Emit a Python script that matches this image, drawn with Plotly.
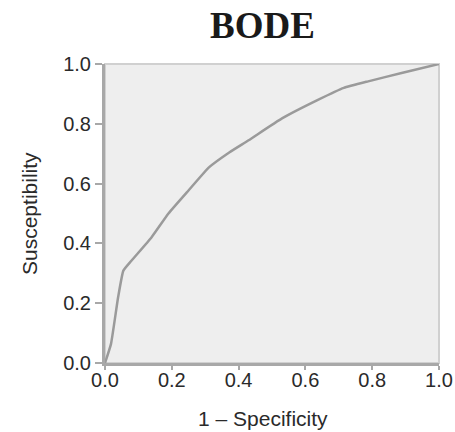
import plotly.graph_objects as go

fpr = [0.0, 0.018, 0.039, 0.055, 0.079, 0.139, 0.19, 0.25, 0.312, 0.373, 0.43, 0.53, 0.636, 0.715, 0.788, 0.888, 1.0]
tpr = [0.0, 0.064, 0.218, 0.309, 0.342, 0.42, 0.5, 0.577, 0.655, 0.705, 0.745, 0.818, 0.879, 0.92, 0.942, 0.97, 1.0]
ticks = [0.0, 0.2, 0.4, 0.6, 0.8, 1.0]
tick_labels = ["0.0", "0.2", "0.4", "0.6", "0.8", "1.0"]

L, R, T, B = 105, 16, 64, 69
W, H = 455, 432
pw, ph = W - L - R, H - T - B

fig = go.Figure()
fig.add_trace(go.Scatter(x=fpr, y=tpr, mode="lines",
                         line=dict(color="#9a9a9a", width=2.5, shape="spline", smoothing=0.4),
                         showlegend=False))

fig.add_shape(type="rect", xref="paper", yref="paper", x0=0, y0=0, x1=1, y1=1,
              line=dict(color="#d0d0d0", width=2), layer="below")

tickfont = dict(family="Liberation Sans, Arial", size=20, color="#2a2a2a")
axis_common = dict(range=[0, 1], tickvals=ticks, ticktext=tick_labels,
                   showgrid=False, zeroline=False, showline=True,
                   linecolor="#a8a8a8", linewidth=3, ticks="outside",
                   tickwidth=2, tickcolor="#a8a8a8", tickfont=tickfont,
                   automargin=False)

fig.update_xaxes(**axis_common, ticklen=4, ticklabelstandoff=-7)
fig.update_yaxes(**axis_common, ticklen=7)

titlefont = dict(family="Liberation Sans, Arial", size=21, color="#2a2a2a")
fig.add_annotation(text="1 – Specificity", xref="paper", yref="paper",
                   x=(263 - L) / pw, y=-(418 - (T + ph)) / ph,
                   xanchor="center", yanchor="middle", showarrow=False, font=titlefont)
fig.add_annotation(text="Susceptibility", xref="paper", yref="paper",
                   x=-(L - 29) / pw, y=(T + ph - 214) / ph, textangle=-90,
                   xanchor="center", yanchor="middle", showarrow=False, font=titlefont)

fig.update_layout(
    width=W, height=H,
    margin=dict(l=L, r=R, t=T, b=B),
    plot_bgcolor="#eeeeee", paper_bgcolor="white",
    title=dict(text="<b>BODE</b>", x=262.5 / W, xanchor="center", y=1 - 25 / H, yanchor="middle",
               font=dict(family="Liberation Serif, Times New Roman", size=37, color="#1a1a1a")),
)

fig.write_html("out.html")
